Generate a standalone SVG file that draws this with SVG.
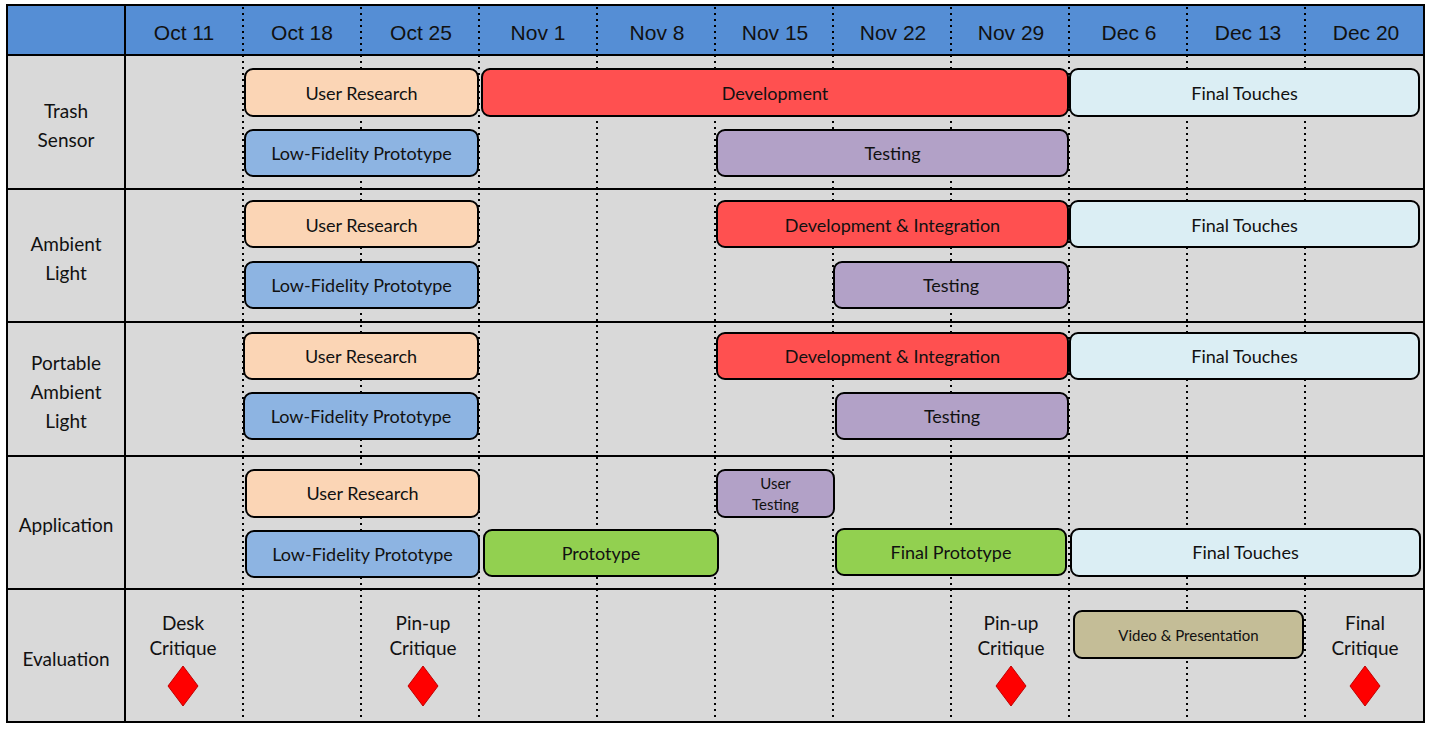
<svg xmlns="http://www.w3.org/2000/svg" width="1433" height="729" viewBox="0 0 1433 729">
<style>
.hdr{font-family:"Liberation Sans",Arial,sans-serif;font-size:21px;fill:#111;text-anchor:middle;dominant-baseline:central}
.lbl{font-family:Lato,"Open Sans",sans-serif;font-size:19px;fill:#111;text-anchor:middle;dominant-baseline:central}
.t{font-family:Lato,"Open Sans",sans-serif;font-size:18px;fill:#111;text-anchor:middle;dominant-baseline:central}
.ts{font-family:Lato,"Open Sans",sans-serif;font-size:15px;fill:#111;text-anchor:middle;dominant-baseline:central}
.bar{stroke:#000;stroke-width:2}
.ur{fill:#FBD5B5}.lf{fill:#8DB4E2}.dv{fill:#FF5050}.ft{fill:#DBEEF4}.ts2{fill:#B2A1C7}.pr{fill:#92D050}.vp{fill:#C4BD97}
.dot{stroke:#000;stroke-width:2;stroke-dasharray:2 4}
.solid{stroke:#000;stroke-width:2;fill:none}
.dia{fill:#FF0000;stroke:#C00000;stroke-width:1}
</style>
<rect x="7" y="5" width="1417" height="717" fill="#D9D9D9"/>
<rect x="7" y="5" width="1417" height="50" fill="#558ED5"/>
<g id="grid">
<g class="dot">
<line x1="243" y1="7" x2="243" y2="721"/><line x1="361" y1="7" x2="361" y2="721"/><line x1="479" y1="7" x2="479" y2="721"/><line x1="597" y1="7" x2="597" y2="721"/><line x1="715" y1="7" x2="715" y2="721"/><line x1="833" y1="7" x2="833" y2="721"/><line x1="951" y1="7" x2="951" y2="721"/><line x1="1069" y1="7" x2="1069" y2="721"/><line x1="1187" y1="7" x2="1187" y2="721"/><line x1="1305" y1="7" x2="1305" y2="721"/>
</g>
<g class="solid">
<rect x="7" y="5" width="1417" height="717"/>
<line x1="125" y1="5" x2="125" y2="722"/>
<line x1="7" y1="55" x2="1424" y2="55"/>
<line x1="7" y1="189" x2="1424" y2="189"/>
<line x1="7" y1="322" x2="1424" y2="322"/>
<line x1="7" y1="456" x2="1424" y2="456"/>
<line x1="7" y1="589" x2="1424" y2="589"/>
</g>
</g>
<g id="header">
<text class="hdr" x="184" y="32">Oct 11</text>
<text class="hdr" x="302" y="32">Oct 18</text>
<text class="hdr" x="421" y="32">Oct 25</text>
<text class="hdr" x="538" y="32">Nov 1</text>
<text class="hdr" x="657" y="32">Nov 8</text>
<text class="hdr" x="775" y="32">Nov 15</text>
<text class="hdr" x="893" y="32">Nov 22</text>
<text class="hdr" x="1011" y="32">Nov 29</text>
<text class="hdr" x="1129" y="32">Dec 6</text>
<text class="hdr" x="1248" y="32">Dec 13</text>
<text class="hdr" x="1366" y="32">Dec 20</text>
</g>
<g id="row-labels">
<text class="lbl" x="66" y="110">Trash</text><text class="lbl" x="66" y="139">Sensor</text>
<text class="lbl" x="66" y="243">Ambient</text><text class="lbl" x="66" y="272">Light</text>
<text class="lbl" x="66" y="362">Portable</text><text class="lbl" x="66" y="391">Ambient</text><text class="lbl" x="66" y="420">Light</text>
<text class="lbl" x="66" y="524">Application</text>
<text class="lbl" x="66" y="658">Evaluation</text>
</g>
<!-- Trash Sensor -->
<g id="ts-user-research"><rect class="bar ur" x="245" y="69" width="233" height="47" rx="8"/><text class="t" x="361.5" y="93">User Research</text></g>
<g id="ts-development"><rect class="bar dv" x="482" y="69" width="586" height="47" rx="8"/><text class="t" x="775" y="93">Development</text></g>
<g id="ts-final-touches"><rect class="bar ft" x="1070" y="69" width="349" height="47" rx="8"/><text class="t" x="1244.5" y="93">Final Touches</text></g>
<g id="ts-lofi"><rect class="bar lf" x="245" y="130" width="233" height="46" rx="8"/><text class="t" x="361.5" y="153">Low-Fidelity Prototype</text></g>
<g id="ts-testing"><rect class="bar ts2" x="717" y="130" width="351" height="46" rx="8"/><text class="t" x="892.5" y="153">Testing</text></g>
<!-- Ambient Light -->
<g id="al-user-research"><rect class="bar ur" x="245" y="201" width="233" height="46" rx="8"/><text class="t" x="361.5" y="225">User Research</text></g>
<g id="al-dev"><rect class="bar dv" x="717" y="201" width="351" height="46" rx="8"/><text class="t" x="892.5" y="225">Development &amp; Integration</text></g>
<g id="al-final-touches"><rect class="bar ft" x="1070" y="201" width="349" height="46" rx="8"/><text class="t" x="1244.5" y="225">Final Touches</text></g>
<g id="al-lofi"><rect class="bar lf" x="245" y="262" width="233" height="46" rx="8"/><text class="t" x="361.5" y="285">Low-Fidelity Prototype</text></g>
<g id="al-testing"><rect class="bar ts2" x="834" y="262" width="234" height="46" rx="8"/><text class="t" x="951" y="285">Testing</text></g>
<!-- Portable Ambient Light -->
<g id="pal-user-research"><rect class="bar ur" x="244" y="333" width="234" height="46" rx="8"/><text class="t" x="361" y="356">User Research</text></g>
<g id="pal-dev"><rect class="bar dv" x="717" y="333" width="351" height="46" rx="8"/><text class="t" x="892.5" y="356">Development &amp; Integration</text></g>
<g id="pal-final-touches"><rect class="bar ft" x="1070" y="333" width="349" height="46" rx="8"/><text class="t" x="1244.5" y="356">Final Touches</text></g>
<g id="pal-lofi"><rect class="bar lf" x="244" y="393" width="234" height="46" rx="8"/><text class="t" x="361" y="416">Low-Fidelity Prototype</text></g>
<g id="pal-testing"><rect class="bar ts2" x="836" y="393" width="232" height="46" rx="8"/><text class="t" x="952" y="416">Testing</text></g>
<!-- Application -->
<g id="app-user-research"><rect class="bar ur" x="246" y="470" width="233" height="47" rx="8"/><text class="t" x="362.5" y="493">User Research</text></g>
<g id="app-user-testing"><rect class="bar ts2" x="717" y="470" width="117" height="47" rx="8"/><text class="ts" x="775.5" y="483">User</text><text class="ts" x="775.5" y="504">Testing</text></g>
<g id="app-lofi"><rect class="bar lf" x="246" y="531" width="233" height="46" rx="8"/><text class="t" x="362.5" y="554">Low-Fidelity Prototype</text></g>
<g id="app-prototype"><rect class="bar pr" x="484" y="530" width="234" height="46" rx="8"/><text class="t" x="601" y="553">Prototype</text></g>
<g id="app-final-prototype"><rect class="bar pr" x="836" y="529" width="230" height="46" rx="8"/><text class="t" x="951" y="552">Final Prototype</text></g>
<g id="app-final-touches"><rect class="bar ft" x="1071" y="529" width="349" height="47" rx="8"/><text class="t" x="1245.5" y="552">Final Touches</text></g>
<!-- Evaluation -->
<g id="desk-critique"><text class="lbl" x="183" y="622">Desk</text><text class="lbl" x="183" y="647">Critique</text><polygon class="dia" points="183,666 198,686 183,706 168,686"/></g>
<g id="pinup-critique-1"><text class="lbl" x="423" y="622">Pin-up</text><text class="lbl" x="423" y="647">Critique</text><polygon class="dia" points="423,666 438,686 423,706 408,686"/></g>
<g id="pinup-critique-2"><text class="lbl" x="1011" y="622">Pin-up</text><text class="lbl" x="1011" y="647">Critique</text><polygon class="dia" points="1011,666 1026,686 1011,706 996,686"/></g>
<g id="video-presentation"><rect class="bar vp" x="1074" y="611" width="229" height="47" rx="8"/><text class="ts" x="1188.5" y="635">Video &amp; Presentation</text></g>
<g id="final-critique"><text class="lbl" x="1365" y="622">Final</text><text class="lbl" x="1365" y="647">Critique</text><polygon class="dia" points="1365,666 1380,686 1365,706 1350,686"/></g>
</svg>
